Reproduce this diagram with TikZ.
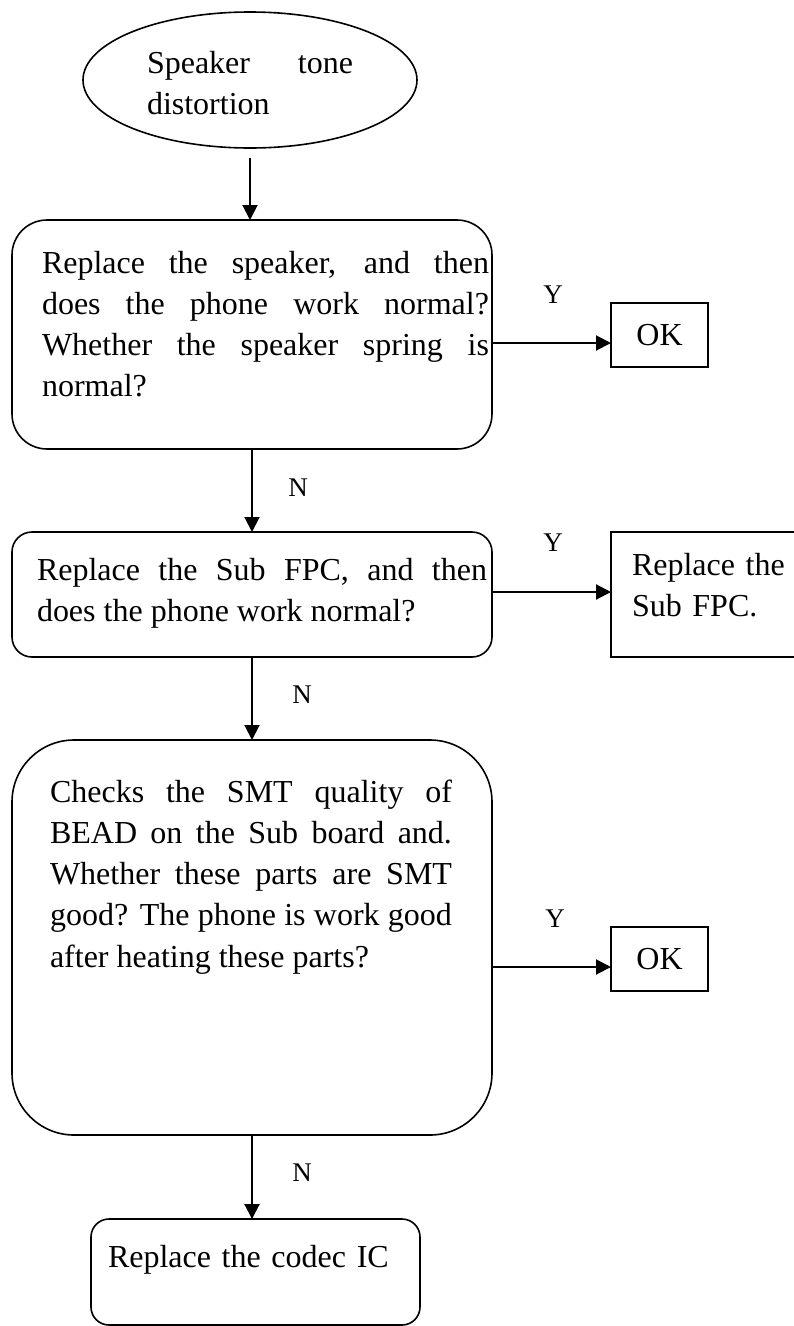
\documentclass[tikz,border=0pt]{standalone}
\usepackage{fontspec}
\setmainfont{Liberation Serif}
\usetikzlibrary{arrows.meta,shapes.geometric}
\tolerance=10000 \hyphenpenalty=10000 \exhyphenpenalty=10000
\begin{document}
\begin{tikzpicture}[x=1pt,y=-1pt,
  every node/.style={inner sep=0pt, outer sep=0pt},
  box/.style={draw, line width=1.6pt, rectangle},
  arr/.style={line width=2pt, -{Triangle[length=15pt,width=15pt]}},
  txt/.style={font=\fontsize{32}{41.3}\selectfont, anchor=base west, align=justify},
  lbl/.style={font=\fontsize{27}{30}\selectfont},
]
\useasboundingbox (0,0) rectangle (793,1326);

% shapes
\node[draw, line width=1.6pt, ellipse, minimum width=334pt, minimum height=136pt] (e0) at (250,80) {};
\node[box, rounded corners=35pt, minimum width=480pt, minimum height=229pt] (b1) at (252,334.5) {};
\node[box, minimum width=97pt, minimum height=64pt, font=\fontsize{32}{38}\selectfont] (ok1) at (659.5,335) {OK};
\node[box, rounded corners=20pt, minimum width=480pt, minimum height=125pt] (b2) at (252,594.5) {};
\node[box, minimum width=189pt, minimum height=125pt] (fpc) at (705.5,594.5) {};
\node[box, rounded corners=62pt, minimum width=480pt, minimum height=395pt] (b3) at (252,937.5) {};
\node[box, minimum width=97pt, minimum height=64pt, font=\fontsize{32}{38}\selectfont] (ok3) at (659.5,959) {OK};
\node[box, rounded corners=18pt, minimum width=329pt, minimum height=106pt] (b4) at (255.5,1272) {};

% texts
\node[txt, text width=206pt] (t0) at (147,73) {Speaker tone\linebreak distortion};
\node[txt, text width=447pt] (t1) at (42,273) {Replace the speaker, and then\linebreak does the phone work normal?\linebreak Whether the speaker spring is\linebreak normal?};
\node[txt, text width=450pt] (t2) at (37,580) {Replace the Sub FPC, and then\linebreak does the phone work normal?};
\node[txt, text width=180pt, align=left] (tf) at (632,575) {Replace the\\Sub FPC.};
\node[txt, text width=402pt] (t3) at (50,802) {Checks the SMT quality of\linebreak BEAD on the Sub board and.\linebreak Whether these parts are SMT\linebreak good? The phone is work good\linebreak after heating these parts?};
\node[txt, text width=320pt, align=left] (t4) at (108,1267) {Replace the codec IC};

% labels
\node[lbl] (y1l) at (553,295) {Y};
\node[lbl] (y2l) at (553,543) {Y};
\node[lbl] (y3l) at (555,919) {Y};
\node[lbl] (n1l) at (298,488) {N};
\node[lbl] (n2l) at (302,695) {N};
\node[lbl] (n3l) at (302,1173) {N};

% connectors
\coordinate (h1) at (0,343);
\coordinate (h2) at (0,592);
\coordinate (h3) at (0,967);
\draw[arr, shorten <=10pt] (e0.south) -- (e0.south |- b1.north);
\draw[arr] (b1.south) -- (b2.north);
\draw[arr] (b2.south) -- (b3.north);
\draw[arr] (b3.south) -- (b3.south |- b4.north);
\draw[arr] (b1.east |- h1) -- (ok1.west |- h1);
\draw[arr] (b2.east |- h2) -- (fpc.west |- h2);
\draw[arr] (b3.east |- h3) -- (ok3.west |- h3);
\end{tikzpicture}
\end{document}
